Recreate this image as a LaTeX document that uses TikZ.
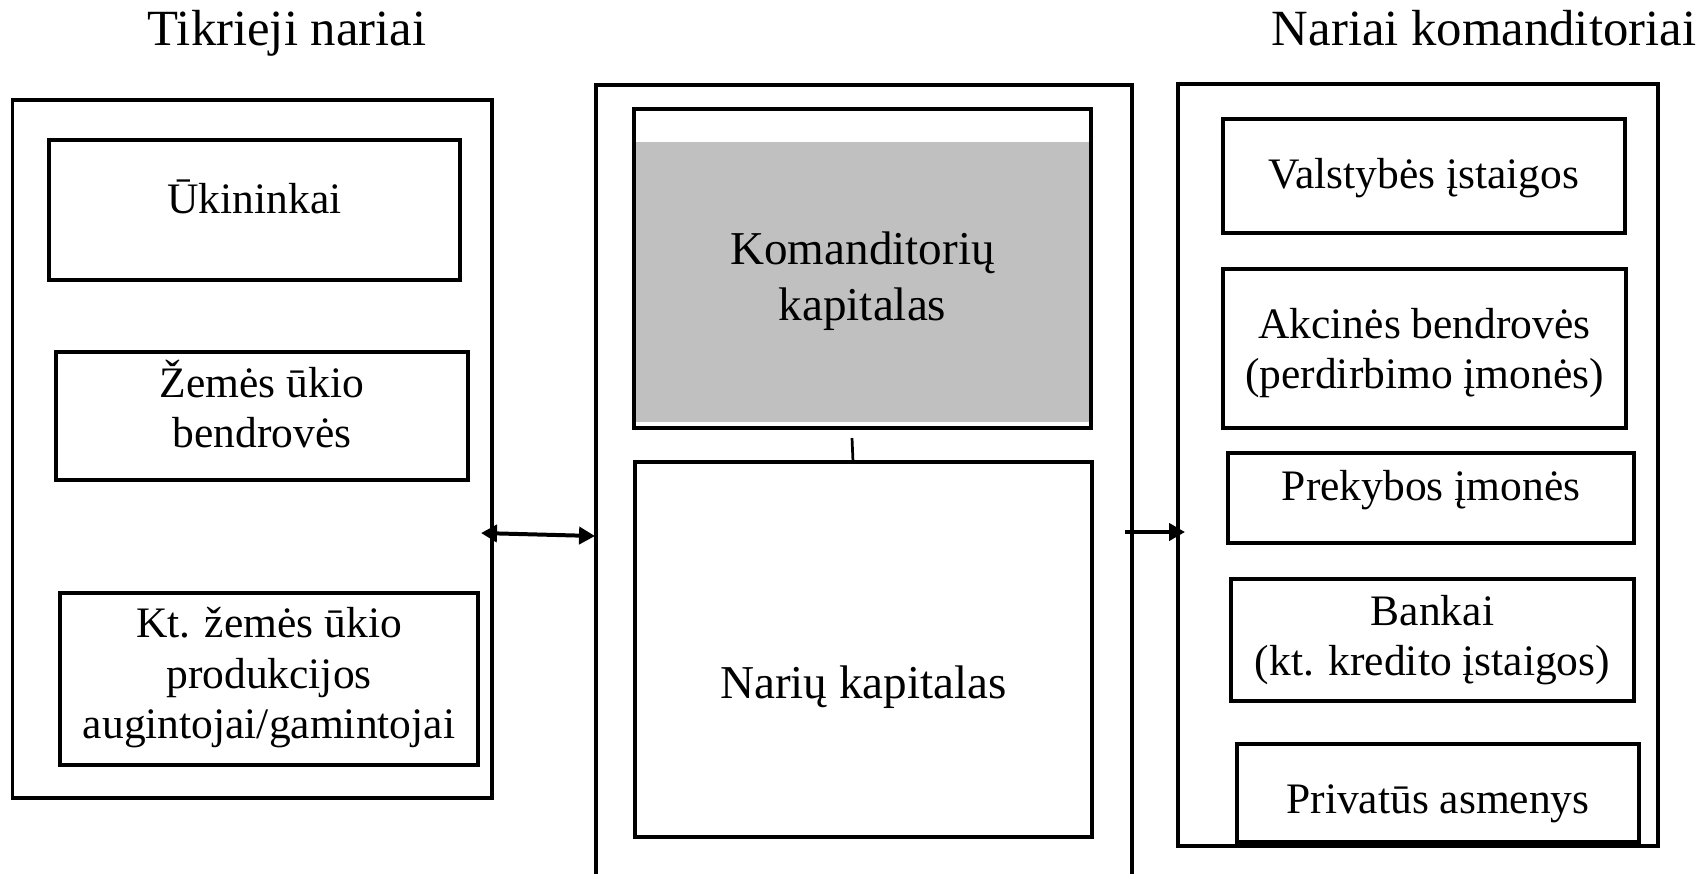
\documentclass[tikz,border=0pt]{standalone}
\usepackage{fontspec}
\setmainfont{Liberation Serif}
\usetikzlibrary{arrows.meta,calc}
\definecolor{kgray}{HTML}{C0C0C0}
\begin{document}
\begin{tikzpicture}[x=0.2759pt,y=-0.2759pt,
  sz/.style 2 args={minimum width=#1*0.2759pt, minimum height=#2*0.2759pt},
  obox/.style={draw, line width=0.85pt, inner sep=0pt, outer sep=0pt},
  ibox/.style={draw, line width=1.1pt, inner sep=0pt, outer sep=0pt},
  body/.style={font=\fontsize{12}{13.8}\selectfont, align=center, anchor=base, inner sep=0pt},
  big/.style={font=\fontsize{13}{15.2}\selectfont, align=center, anchor=base, inner sep=0pt},
  ttl/.style={font=\fontsize{14}{16}\selectfont, anchor=base, inner sep=0pt},
  conn/.style={line width=1.1pt, >={Triangle[length=4.4pt,width=4.7pt]}},
]
\clip (0,0) rectangle (1699,873);
\fill[white] (0,0) rectangle (1699,873);

% titles
\node[ttl] (t1) at (287,45) {Tikrieji nariai};
\node[ttl] (t2) at (1484,45) {Nariai komanditoriai};

% left group
\node[obox, sz={479.4}{698}] (L) at (252.3,449) {};
\node[ibox, sz={411.4}{140}] (uk) at (254.3,210) {};
\node[ibox, sz={412}{128}] (ze) at (262,416) {};
\node[ibox, sz={418}{172}] (kt) at (269,679) {};
\node[body] (tuk) at (254.5,213) {Ūkininkai};
\node[body] (tze) at (262,447) {Žemės ūkio\\bendrovės};
\node[body] (tkt) at (269,738) {Kt. žemės ūkio\\produkcijos\\augintojai/gamintojai};

% middle group
\node[obox, sz={536}{830}] (M) at (864,500) {};
\fill[kgray] (634,142) rectangle (1091,422);
\node[ibox, sz={457}{319}] (K) at (862.5,268.5) {};
\node[big] (tK) at (862.5,320) {Komanditorių\\kapitalas};
\node[ibox, sz={457}{375}] (N) at (863.5,649.5) {};
\node[big] (tN) at (863.5,698) {Narių kapitalas};
\draw[line width=0.75pt] ($(K.south)+(-10.5,10)$) -- ($(N.north)+(-10.5,0)$);

% right group
\node[obox, sz={480}{762}] (R) at (1418,465) {};
\node[ibox, sz={402}{114}] (va) at (1424,176) {};
\node[ibox, sz={403}{159}] (ak) at (1424.5,348.5) {};
\node[ibox, sz={406}{90}] (pr) at (1431,498) {};
\node[ibox, sz={403}{122}] (ba) at (1432.5,640) {};
\node[ibox, sz={402}{98}] (pa) at (1438,793) {};
\node[body] (tva) at (1424,188) {Valstybės įstaigos};
\node[body] (tak) at (1424.5,388) {Akcinės bendrovės\\(perdirbimo įmonės)};
\node[body] (tpr) at (1431,500) {Prekybos įmonės};
\node[body] (tba) at (1432.5,675) {Bankai\\(kt. kredito įstaigos)};
\node[body] (tpa) at (1438,813) {Privatūs asmenys};

% connectors
\draw[conn, <->] ($(L.east)+(-11,84)$) -- ($(M.west)+(-1,36)$);
\draw[conn, ->] ($(M.east)+(-7,32)$) -- ($(R.west)+(7,67)$);
\end{tikzpicture}
\end{document}
